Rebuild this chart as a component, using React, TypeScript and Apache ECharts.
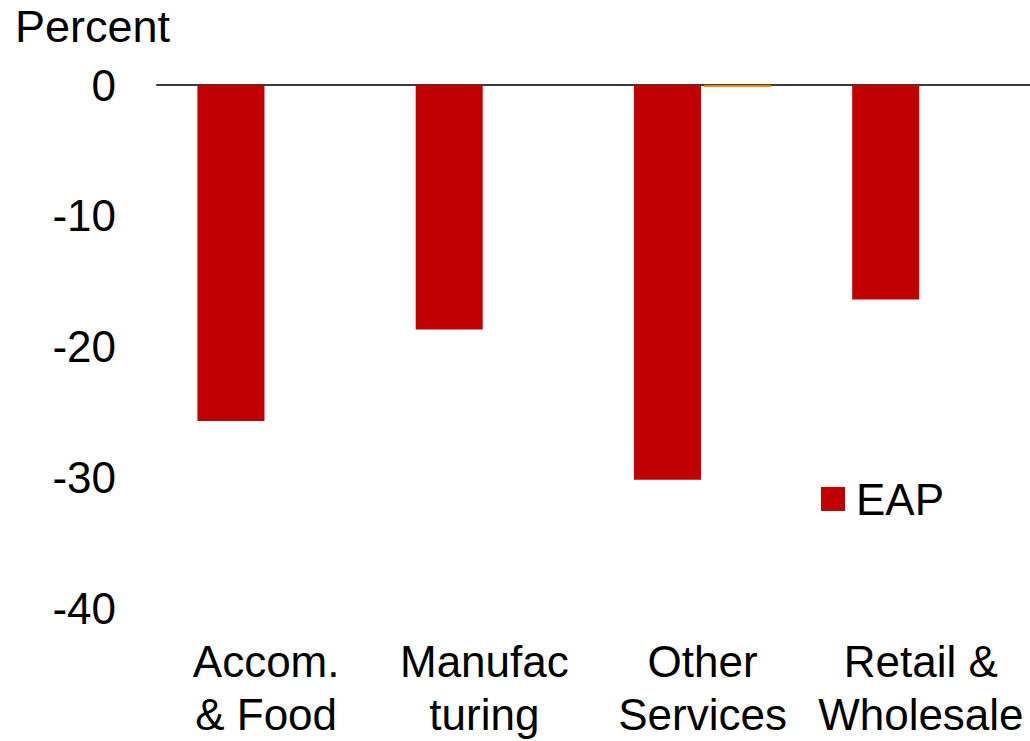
import React, { useEffect, useRef } from "react";
import * as echarts from "echarts";

const categories = ["Accom.\n& Food", "Manufac\nturing", "Other\nServices", "Retail &\nWholesale"];
const eapValues = [-25.7, -18.7, -30.2, -16.4];
const otherValues = [null, null, -0.15, null];
const yTicks = { min: -40, max: 0, interval: 10 };

const FONT = "'Liberation Sans', Arial, sans-serif";

export default function App() {
  const ref = useRef<HTMLDivElement>(null);
  useEffect(() => {
    if (!ref.current) return;
    const chart = echarts.init(ref.current, null, { renderer: "svg" });
    chart.setOption({
      animation: false,
      backgroundColor: "#ffffff",
      textStyle: { fontFamily: FONT },
      grid: { left: 157, right: -3, top: 85, bottom: 131, containLabel: false },
      graphic: [
        {
          type: "text",
          left: 15,
          top: 4,
          style: { text: "Percent", fontSize: 45, fontFamily: FONT, fill: "#000" },
        },
      ],
      legend: {
        data: ["EAP"],
        left: 816,
        top: 472,
        itemWidth: 24,
        itemHeight: 24,
        icon: "rect",
        textStyle: { fontSize: 44, color: "#000", fontFamily: FONT, padding: [0, 0, 0, 6] },
      },
      xAxis: [
        {
          type: "category",
          data: categories,
          position: "bottom",
          axisLine: { show: false },
          axisTick: { show: false },
          axisLabel: {
            fontSize: 44,
            color: "#000",
            fontFamily: FONT,
            lineHeight: 53,
            margin: 27,
            interval: 0,
          },
          splitLine: { show: false },
        },
        {
          type: "category",
          data: categories,
          position: "top",
          axisLine: { show: true, onZero: false, lineStyle: { color: "#3a3a3a", width: 2 } },
          axisTick: { show: false },
          axisLabel: { show: false },
          splitLine: { show: false },
        },
      ],
      yAxis: {
        type: "value",
        min: yTicks.min,
        max: yTicks.max,
        interval: yTicks.interval,
        axisLine: { show: false },
        axisTick: { show: false },
        splitLine: { show: false },
        axisLabel: { fontSize: 44, color: "#000", fontFamily: FONT, margin: 41 },
      },
      series: [
        {
          name: "EAP",
          type: "bar",
          xAxisIndex: 0,
          data: eapValues,
          barWidth: 67,
          barGap: "5%",
          itemStyle: { color: "#C00000" },
        },
        {
          name: "Series 2",
          type: "bar",
          xAxisIndex: 0,
          data: otherValues,
          barWidth: 67,
          barGap: "5%",
          itemStyle: { color: "#F08A00" },
        },
      ],
    });
    return () => chart.dispose();
  }, []);
  return (
    <div
      ref={ref}
      style={{ position: "absolute", left: 0, top: 0, width: 1030, height: 741 }}
    />
  );
}
